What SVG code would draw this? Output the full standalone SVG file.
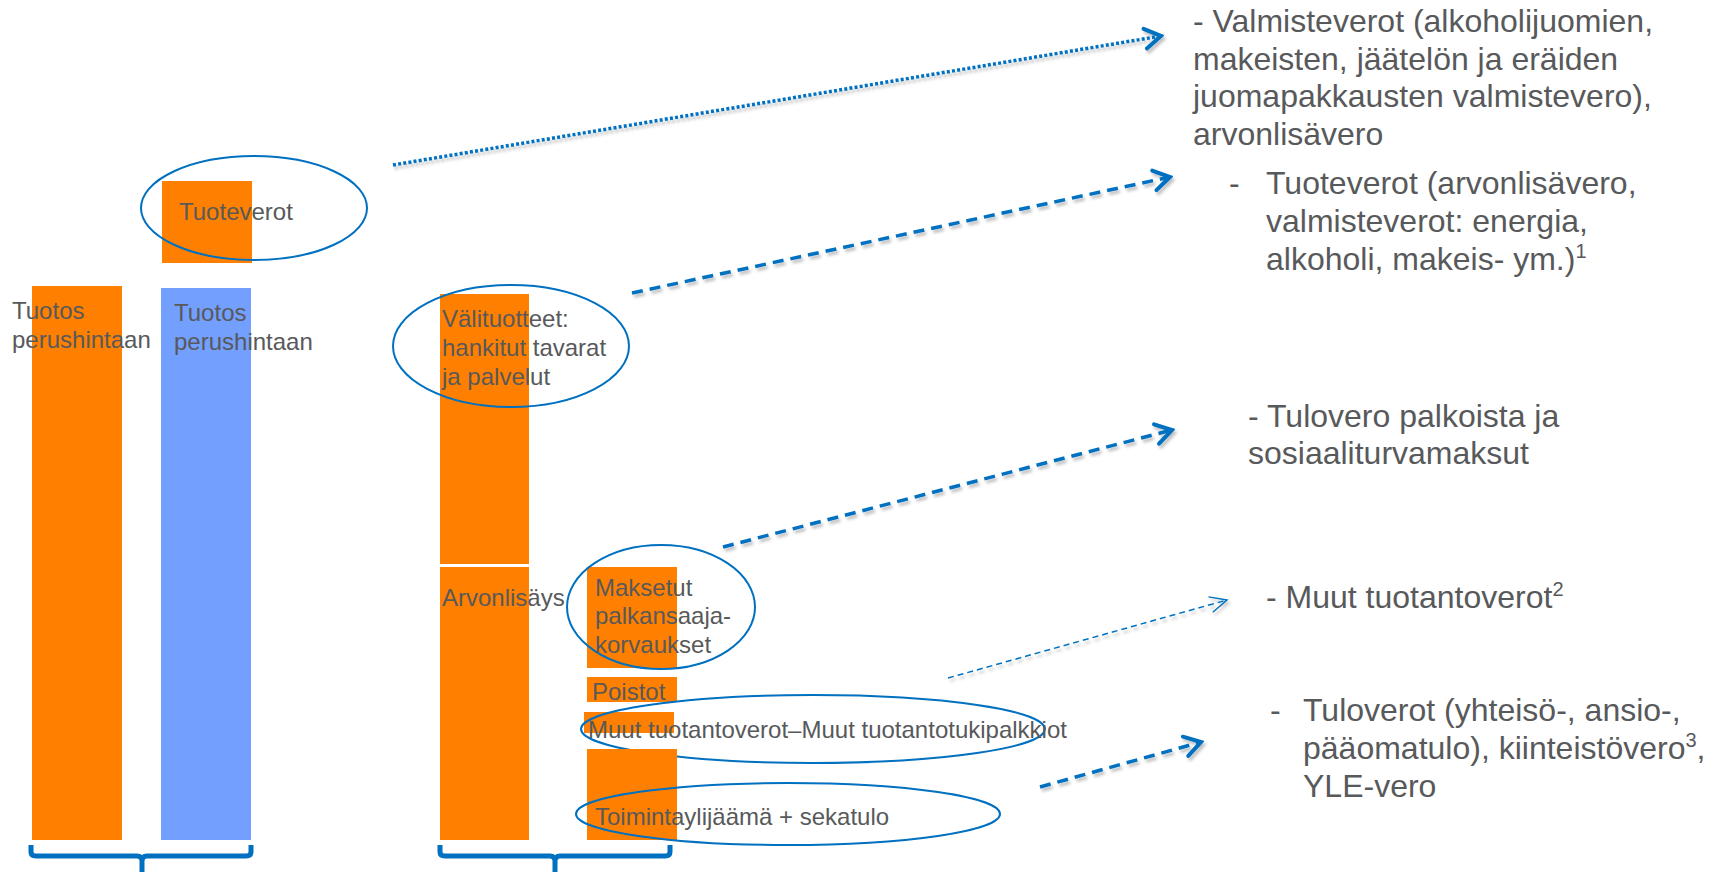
<svg xmlns="http://www.w3.org/2000/svg" width="1721" height="872" viewBox="0 0 1721 872">
<defs>
<style>
.lbl{font-family:"Liberation Sans",Arial,sans-serif;font-size:24px;fill:#58595B}
.big{font-family:"Liberation Sans",Arial,sans-serif;font-size:32px;fill:#58595B}
.or{fill:#FF8000}
.bl{fill:#739FFF}
.ell{fill:none;stroke:#0070C0;stroke-width:2}
.con{fill:none;stroke:#0070C0}
.dot{stroke-width:3.5;stroke-dasharray:3 2.2}
.dash{stroke-width:3.5;stroke-dasharray:11 7}
.thin{stroke-width:1.5;stroke-dasharray:6 4}
.brk{fill:none;stroke:#0070C0;stroke-width:5}
</style>
<marker id="arr" markerUnits="userSpaceOnUse" viewBox="0 0 22 26" refX="19" refY="13" markerWidth="22" markerHeight="26" orient="auto">
<path d="M3,3 L19,13 L3,23" fill="none" stroke="#0070C0" stroke-width="4" stroke-linecap="round" stroke-linejoin="miter"/>
</marker>
<marker id="arrthin" markerUnits="userSpaceOnUse" viewBox="0 0 22 22" refX="20" refY="11" markerWidth="22" markerHeight="22" orient="auto">
<path d="M3,3 L20,11 L3,19" fill="none" stroke="#0070C0" stroke-width="1.5"/>
</marker>
<filter id="sh" x="-5%" y="-50%" width="110%" height="200%">
<feDropShadow dx="2" dy="3" stdDeviation="1.5" flood-color="#000" flood-opacity="0.25"/>
</filter>
</defs>
<rect width="1721" height="872" fill="#fff"/>

<g id="bar-tuotos-1">
<rect class="or" x="32" y="286" width="90" height="554"/>
<text class="lbl" x="12" y="319">Tuotos</text>
<text class="lbl" x="12" y="348">perushintaan</text>
</g>

<g id="bar-tuotos-2">
<rect class="bl" x="161" y="288" width="90" height="552"/>
<text class="lbl" x="174" y="321">Tuotos</text>
<text class="lbl" x="174" y="350">perushintaan</text>
</g>

<g id="tuoteverot">
<rect class="or" x="162" y="181" width="90" height="82"/>
<ellipse class="ell" cx="254" cy="208" rx="113" ry="52"/>
<text class="lbl" x="179" y="220">Tuoteverot</text>
</g>

<g id="valituotteet">
<rect class="or" x="440" y="294" width="89" height="270"/>
<ellipse class="ell" cx="511" cy="346" rx="118" ry="61"/>
<text class="lbl" x="442" y="327">Välituotteet:</text>
<text class="lbl" x="442" y="356">hankitut tavarat</text>
<text class="lbl" x="442" y="385">ja palvelut</text>
</g>

<g id="arvonlisays">
<rect class="or" x="440" y="567" width="89" height="273"/>
<text class="lbl" x="442" y="606">Arvonlisäys</text>
</g>

<g id="maksetut">
<rect class="or" x="587" y="567" width="90" height="101"/>
<ellipse class="ell" cx="661" cy="607" rx="94" ry="62"/>
<text class="lbl" x="595" y="596">Maksetut</text>
<text class="lbl" x="595" y="624">palkansaaja-</text>
<text class="lbl" x="595" y="653">korvaukset</text>
</g>

<g id="poistot">
<rect class="or" x="587" y="677" width="90" height="25"/>
<text class="lbl" x="592" y="700">Poistot</text>
</g>

<g id="muut">
<rect class="or" x="584" y="712" width="90" height="21"/>
<ellipse class="ell" cx="813" cy="729" rx="232" ry="34"/>
<text class="lbl" x="588" y="738">Muut tuotantoverot–Muut tuotantotukipalkkiot</text>
</g>

<g id="toimintaylijaama">
<rect class="or" x="587" y="749" width="90" height="91"/>
<ellipse class="ell" cx="788" cy="814" rx="212" ry="31"/>
<text class="lbl" x="595" y="825">Toimintaylijäämä + sekatulo</text>
</g>

<g id="brackets">
<path class="brk" d="M31,845 V852 Q31,856 36,856 H137 Q142,856 142,861 V872 M142,861 Q142,856 147,856 H246 Q251,856 251,852 V845"/>
<path class="brk" d="M440,845 V852 Q440,856 445,856 H550 Q555,856 555,861 V872 M555,861 Q555,856 560,856 H665 Q670,856 670,852 V845"/>
</g>

<g id="note-valmisteverot">
<text class="big" x="1193" y="32">- Valmisteverot (alkoholijuomien,</text>
<text class="big" x="1193" y="69.5">makeisten, jäätelön ja eräiden</text>
<text class="big" x="1193" y="107">juomapakkausten valmistevero),</text>
<text class="big" x="1193" y="144.5">arvonlisävero</text>
</g>

<g id="note-tuoteverot">
<text class="big" x="1229" y="194">-</text>
<text class="big" x="1266" y="194">Tuoteverot (arvonlisävero,</text>
<text class="big" x="1266" y="232">valmisteverot: energia,</text>
<text class="big" x="1266" y="270">alkoholi, makeis- ym.)<tspan font-size="20" dy="-12">1</tspan></text>
</g>

<g id="note-tulovero">
<text class="big" x="1248" y="427">- Tulovero palkoista ja</text>
<text class="big" x="1248" y="464">sosiaaliturvamaksut</text>
</g>

<g id="note-muut">
<text class="big" x="1266" y="608">- Muut tuotantoverot<tspan font-size="20" dy="-12">2</tspan></text>
</g>

<g id="note-tuloverot">
<text class="big" x="1270" y="721">-</text>
<text class="big" x="1303" y="721">Tuloverot (yhteisö-, ansio-,</text>
<text class="big" x="1303" y="759">pääomatulo), kiinteistövero<tspan font-size="20" dy="-12">3</tspan><tspan dy="12">,</tspan></text>
<text class="big" x="1303" y="797">YLE-vero</text>
</g>

<g id="connectors" filter="url(#sh)">
<line class="con dot" x1="393" y1="165" x2="1161" y2="36" marker-end="url(#arr)"/>
<line class="con dash" x1="632" y1="293" x2="1170" y2="177" marker-end="url(#arr)"/>
<line class="con dash" x1="723" y1="547" x2="1172" y2="430" marker-end="url(#arr)"/>
<line class="con thin" x1="948" y1="678" x2="1227" y2="600" marker-end="url(#arrthin)"/>
<line class="con dash" x1="1040" y1="787" x2="1201" y2="742" marker-end="url(#arr)"/>
</g>
</svg>
